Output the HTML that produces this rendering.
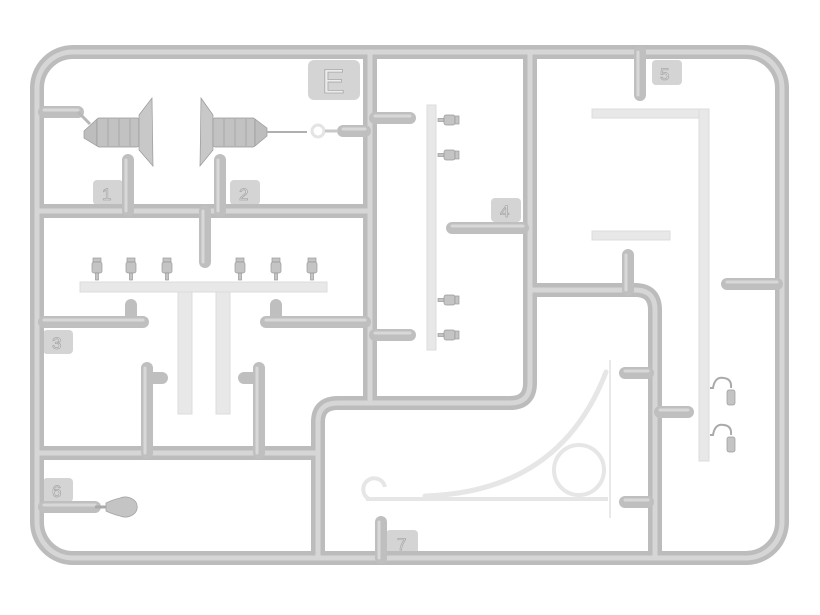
<!DOCTYPE html>
<html><head><meta charset="utf-8"><style>
html,body{margin:0;padding:0;background:#fff;width:820px;height:615px;overflow:hidden}
svg{display:block}
.r{fill:none;stroke:#bcbcbc;stroke-width:14;stroke-linecap:round;stroke-linejoin:round}
.h{fill:none;stroke:#d6d6d6;stroke-width:5;stroke-linecap:round;stroke-linejoin:round}
.s{fill:none;stroke:#bfbfbf;stroke-width:12;stroke-linecap:round}
.sh{fill:none;stroke:#d8d8d8;stroke-width:3;stroke-linecap:round}
.p{fill:#e8e8e8;stroke:#dcdcdc;stroke-width:1}
.pl{fill:none;stroke:#e6e6e6;stroke-linecap:round}
.tag{fill:#d4d4d4}
.t{font-family:"Liberation Sans",sans-serif;fill:#ececec;stroke:#a8a8a8;stroke-width:0.8}
.ins{fill:#c4c4c4;stroke:#9a9a9a;stroke-width:0.7}
</style></head><body>
<svg width="820" height="615" viewBox="0 0 820 615" xmlns="http://www.w3.org/2000/svg">
<defs>
<g id="insV"><rect x="-4" y="0" width="8" height="4" class="ins"/><rect x="-5" y="4" width="10" height="11" rx="2" class="ins"/><rect x="-1.5" y="15" width="3" height="7" class="ins"/></g>
<g id="insH"><rect x="0" y="-1.5" width="6" height="3" class="ins"/><rect x="6" y="-5" width="11" height="10" rx="2" class="ins"/><rect x="17" y="-4" width="4" height="8" class="ins"/></g>
</defs>

<rect x="308" y="60" width="52" height="40" rx="6" class="tag"/>
<text x="322" y="93" font-size="34" class="t">E</text>
<rect x="93" y="180" width="30" height="25" rx="4" class="tag"/><text x="102" y="200" font-size="17" class="t">1</text>
<rect x="230" y="180" width="30" height="25" rx="4" class="tag"/><text x="239" y="200" font-size="17" class="t">2</text>
<rect x="43" y="330" width="30" height="24" rx="4" class="tag"/><text x="52" y="349" font-size="17" class="t">3</text>
<rect x="491" y="198" width="30" height="24" rx="4" class="tag"/><text x="500" y="217" font-size="17" class="t">4</text>
<rect x="652" y="60" width="30" height="25" rx="4" class="tag"/><text x="660" y="80" font-size="17" class="t">5</text>
<rect x="43" y="478" width="30" height="24" rx="4" class="tag"/><text x="52" y="497" font-size="17" class="t">6</text>
<rect x="386" y="530" width="32" height="25" rx="4" class="tag"/><text x="397" y="550" font-size="17" class="t">7</text>

<g class="r">
<rect x="37" y="52" width="745" height="506" rx="36"/>
<path d="M370 52 V400"/>
<path d="M37 211 H370"/>
<path d="M37 453 H318"/>
<path d="M318 558 V422 Q318 403 338 403 H510 Q530 403 530 383 V52"/>
<path d="M530 290 H635 Q655 290 655 310 V558"/>
</g>
<g class="h">
<rect x="37" y="52" width="745" height="506" rx="36"/>
<path d="M370 52 V400"/>
<path d="M37 211 H370"/>
<path d="M37 453 H318"/>
<path d="M318 558 V422 Q318 403 338 403 H510 Q530 403 530 383 V52"/>
<path d="M530 290 H635 Q655 290 655 310 V558"/>
</g>

<g class="s">
<path d="M44 112 H78"/><path d="M128 211 V160"/><path d="M220 211 V160"/><path d="M343 131 H365"/>
<path d="M205 211 V262"/>
<path d="M44 322 H143"/><path d="M131 322 V305"/>
<path d="M365 322 H266"/><path d="M276 322 V305"/>
<path d="M147 453 V368"/><path d="M147 378 H162"/>
<path d="M259 453 V368"/><path d="M259 378 H244"/>
<path d="M44 507 H95"/>
<path d="M375 118 H410"/><path d="M375 335 H410"/><path d="M523 228 H452"/>
<path d="M640 52 V95"/><path d="M628 290 V255"/><path d="M777 284 H727"/>
<path d="M660 412 H688"/>
<path d="M648 373 H625"/><path d="M648 502 H625"/>
<path d="M381 558 V522"/>
</g>
<g class="sh">
<path d="M44 110 H78"/><path d="M126 211 V160"/><path d="M218 211 V160"/><path d="M343 129 H365"/>
<path d="M203 211 V262"/><path d="M44 320 H143"/><path d="M365 320 H266"/>
<path d="M145 453 V368"/><path d="M257 453 V368"/><path d="M44 505 H95"/>
<path d="M375 116 H410"/><path d="M375 333 H410"/><path d="M523 226 H452"/>
<path d="M638 52 V95"/><path d="M626 290 V255"/><path d="M777 282 H727"/><path d="M660 410 H688"/>
<path d="M648 371 H625"/><path d="M648 500 H625"/><path d="M379 558 V522"/>
</g>

<line x1="78" y1="112" x2="90" y2="124" stroke="#b8b8b8" stroke-width="3"/>
<polygon points="84,131 97,119 97,146 84,138" fill="#bdbdbd" stroke="#999" stroke-width="0.7"/>
<rect x="97" y="118" width="42" height="29" rx="2" fill="#c2c2c2" stroke="#999" stroke-width="0.7"/>
<line x1="108" y1="119" x2="108" y2="146" stroke="#a8a8a8"/><line x1="119" y1="119" x2="119" y2="146" stroke="#a8a8a8"/><line x1="130" y1="119" x2="130" y2="146" stroke="#a8a8a8"/>
<polygon points="139,115 152,98 153,166 139,150" fill="#c8c8c8" stroke="#999" stroke-width="0.7"/>
<polygon points="213,115 201,98 200,166 213,150" fill="#c8c8c8" stroke="#999" stroke-width="0.7"/>
<rect x="213" y="118" width="42" height="29" rx="2" fill="#c2c2c2" stroke="#999" stroke-width="0.7"/>
<line x1="224" y1="119" x2="224" y2="146" stroke="#a8a8a8"/><line x1="235" y1="119" x2="235" y2="146" stroke="#a8a8a8"/><line x1="246" y1="119" x2="246" y2="146" stroke="#a8a8a8"/>
<polygon points="255,119 267,128 267,136 255,146" fill="#bdbdbd" stroke="#999" stroke-width="0.7"/>
<line x1="267" y1="132" x2="307" y2="132" stroke="#b0b0b0" stroke-width="2"/>
<circle cx="318" cy="131" r="6" fill="none" stroke="#e4e4e4" stroke-width="3"/>
<line x1="325" y1="131" x2="338" y2="131" stroke="#c8c8c8" stroke-width="3"/>

<rect x="80" y="282" width="247" height="10" class="p"/>
<rect x="178" y="292" width="14" height="122" class="p"/>
<rect x="216" y="292" width="14" height="122" class="p"/>
<use href="#insV" x="97" y="258"/><use href="#insV" x="131" y="258"/><use href="#insV" x="167" y="258"/>
<use href="#insV" x="240" y="258"/><use href="#insV" x="276" y="258"/><use href="#insV" x="312" y="258"/>
<line x1="95" y1="507" x2="108" y2="507" stroke="#aaa" stroke-width="3"/>
<path d="M106 503 Q112 500 120 498 A12 10 0 1 1 120 516 Q112 514 106 511 Z" fill="#c4c4c4" stroke="#a5a5a5" stroke-width="0.8"/>

<rect x="427" y="105" width="9" height="245" class="p"/>
<use href="#insH" x="438" y="120"/><use href="#insH" x="438" y="155"/><use href="#insH" x="438" y="300"/><use href="#insH" x="438" y="335"/>

<rect x="592" y="109" width="117" height="9" class="p"/>
<rect x="699" y="109" width="10" height="352" class="p"/>
<rect x="592" y="231" width="78" height="9" class="p"/>
<path d="M710 388 H713 Q715 376 724 378 Q732 379 731 388" fill="none" stroke="#aaa" stroke-width="2"/>
<rect x="727" y="390" width="8" height="15" rx="2" class="ins"/>
<path d="M710 435 H713 Q715 423 724 425 Q732 426 731 435" fill="none" stroke="#aaa" stroke-width="2"/>
<rect x="727" y="437" width="8" height="15" rx="2" class="ins"/>

<line x1="610" y1="360" x2="610" y2="518" stroke="#e2e2e2" stroke-width="1.5"/>
<path d="M425 496 Q560 492 606 372" class="pl" stroke-width="5"/>
<circle cx="579" cy="470" r="25" fill="none" stroke="#e6e6e6" stroke-width="4"/>
<line x1="366" y1="499" x2="608" y2="499" stroke="#e6e6e6" stroke-width="4"/>
<path d="M369 499 A11 11 0 1 1 385 487" fill="none" stroke="#e6e6e6" stroke-width="4"/>
</svg>
</body></html>
